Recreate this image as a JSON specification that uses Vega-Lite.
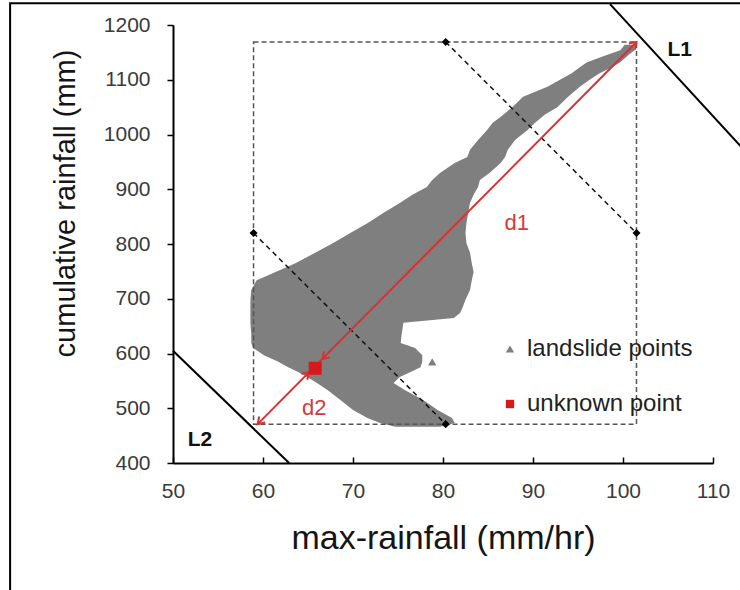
{
  "$schema": "https://vega.github.io/schema/vega-lite/v6.json",
  "width": 540,
  "height": 438,
  "autosize": {"type": "none"},
  "padding": {"left": 173, "top": 25, "right": 27, "bottom": 127},
  "background": "white",
  "config": {
    "view": {"stroke": null},
    "font": "Liberation Sans",
    "axis": {"grid": false, "labelFont": "Liberation Sans", "titleFont": "Liberation Sans", "labelFlush": false}
  },
  "datasets": {
    "blob": [
      {"y": 466, "xl": 74.7, "xr": 79.7},
      {"y": 473, "xl": 73.0, "xr": 81.3},
      {"y": 482, "xl": 71.6, "xr": 81.0},
      {"y": 497, "xl": 70.0, "xr": 79.4},
      {"y": 515, "xl": 68.6, "xr": 77.8},
      {"y": 533, "xl": 67.2, "xr": 75.8},
      {"y": 546, "xl": 66.0, "xr": 74.5},
      {"y": 557, "xl": 64.9, "xr": 75.2},
      {"y": 566, "xl": 63.9, "xr": 76.4},
      {"y": 575, "xl": 62.8, "xr": 77.5},
      {"y": 585, "xl": 61.7, "xr": 77.7},
      {"y": 597, "xl": 60.1, "xr": 77.7},
      {"y": 610, "xl": 58.9, "xr": 76.9},
      {"y": 619, "xl": 58.7, "xr": 75.3},
      {"y": 634, "xl": 58.7, "xr": 75.4},
      {"y": 656, "xl": 58.6, "xr": 75.6},
      {"y": 665, "xl": 58.6, "xr": 81.2},
      {"y": 674, "xl": 58.6, "xr": 81.9},
      {"y": 685, "xl": 58.6, "xr": 82.2},
      {"y": 698, "xl": 58.6, "xr": 82.5},
      {"y": 716, "xl": 58.7, "xr": 83.0},
      {"y": 734, "xl": 59.3, "xr": 83.2},
      {"y": 749, "xl": 61.4, "xr": 83.4},
      {"y": 765, "xl": 63.6, "xr": 83.2},
      {"y": 784, "xl": 65.8, "xr": 83.0},
      {"y": 802, "xl": 67.8, "xr": 82.6},
      {"y": 820, "xl": 69.7, "xr": 82.5},
      {"y": 838, "xl": 71.6, "xr": 82.6},
      {"y": 857, "xl": 73.4, "xr": 82.8},
      {"y": 875, "xl": 75.2, "xr": 83.0},
      {"y": 890, "xl": 76.6, "xr": 83.4},
      {"y": 904, "xl": 78.2, "xr": 83.9},
      {"y": 917, "xl": 78.8, "xr": 84.1},
      {"y": 930, "xl": 79.7, "xr": 85.2},
      {"y": 948, "xl": 81.3, "xr": 86.4},
      {"y": 959, "xl": 82.7, "xr": 86.9},
      {"y": 972, "xl": 83.0, "xr": 87.2},
      {"y": 990, "xl": 83.9, "xr": 88.0},
      {"y": 1008, "xl": 84.9, "xr": 89.4},
      {"y": 1021, "xl": 85.5, "xr": 90.2},
      {"y": 1036, "xl": 86.7, "xr": 91.3},
      {"y": 1050, "xl": 87.7, "xr": 92.7},
      {"y": 1069, "xl": 88.9, "xr": 93.9},
      {"y": 1087, "xl": 91.6, "xr": 95.2},
      {"y": 1100, "xl": 93.0, "xr": 96.3},
      {"y": 1112, "xl": 94.3, "xr": 97.4},
      {"y": 1123, "xl": 95.2, "xr": 98.8},
      {"y": 1132, "xl": 96.0, "xr": 99.7},
      {"y": 1145, "xl": 98.2, "xr": 100.6},
      {"y": 1154, "xl": 99.7, "xr": 101.3},
      {"y": 1164, "xl": 100.2, "xr": 101.3}
    ],
    "frame": [{"x1": 31.9, "x2": 120, "y1": 1239.6, "y2": 100}],
    "box": [{"x1": 58.95, "x2": 101.5, "y1": 471, "y2": 1169}],
    "diagonals": [
      {"x1": 80.3, "y1": 1169, "x2": 101.5, "y2": 820},
      {"x1": 58.95, "y1": 820, "x2": 80.3, "y2": 471}
    ],
    "corners": [
      {"x": 80.3, "y": 1169},
      {"x": 101.5, "y": 820},
      {"x": 58.95, "y": 820},
      {"x": 80.3, "y": 471}
    ],
    "borders": [
      {"name": "L1", "x1": 98.56, "y1": 1238, "x2": 114, "y2": 962},
      {"name": "L2", "x1": 50, "y1": 605, "x2": 62.9, "y2": 400}
    ],
    "dline": [{"x1": 59.4, "y1": 471, "x2": 101.5, "y2": 1169}],
    "tipsUp": [{"x": 101.5, "y": 1169}, {"x": 65.1, "y": 566}],
    "tipsDown": [{"x": 66.6, "y": 590}, {"x": 59.4, "y": 471}],
    "landslide": [{"series": "landslide points", "x": 78.8, "y": 584.5}],
    "unknown": [{"series": "unknown point", "x": 65.8, "y": 573}],
    "dlabels": [{"label": "d1", "x": 88.2, "y": 838}, {"label": "d2", "x": 65.7, "y": 500}],
    "llabels": [{"label": "L1", "x": 106.3, "y": 1155}, {"label": "L2", "x": 53.0, "y": 442}]
  },
  "layer": [
    {
      "data": {"name": "blob"},
      "mark": {"type": "area", "orient": "horizontal", "color": "#7f7f7f", "opacity": 1},
      "encoding": {
        "y": {
          "field": "y", "type": "quantitative",
          "scale": {"domain": [400, 1200], "nice": false, "zero": false},
          "axis": {
            "title": "cumulative rainfall (mm)",
            "values": [400, 500, 600, 700, 800, 900, 1000, 1100, 1200],
            "format": "d",
            "domainColor": "black", "domainWidth": 2,
            "tickColor": "black", "tickWidth": 1.5, "tickSize": 6,
            "labelFontSize": 21, "labelColor": "#3a3a3a", "labelPadding": 17,
            "titleFontSize": 29, "titleFontWeight": "normal", "titleColor": "#151515",
            "titleX": -93, "titleY": 178
          }
        },
        "x": {
          "field": "xl", "type": "quantitative",
          "scale": {"domain": [50, 110], "nice": false, "zero": false},
          "axis": {
            "title": "max-rainfall (mm/hr)",
            "values": [50, 60, 70, 80, 90, 100, 110],
            "format": "d",
            "domainColor": "black", "domainWidth": 2,
            "tickColor": "black", "tickWidth": 1.5, "tickSize": -6,
            "labelFontSize": 21, "labelColor": "#3a3a3a", "labelPadding": 23,
            "titleFontSize": 34, "titleFontWeight": "normal", "titleColor": "#151515",
            "titleY": 58
          }
        },
        "x2": {"field": "xr"}
      }
    },
    {
      "data": {"name": "frame"},
      "mark": {"type": "rect", "filled": false, "color": "black", "strokeWidth": 2},
      "encoding": {
        "x": {"field": "x1", "type": "quantitative"},
        "x2": {"field": "x2"},
        "y": {"field": "y1", "type": "quantitative"},
        "y2": {"field": "y2"}
      }
    },
    {
      "data": {"name": "box"},
      "mark": {"type": "rect", "filled": false, "color": "#555555", "strokeWidth": 1.5, "strokeDash": [5, 3]},
      "encoding": {
        "x": {"field": "x1", "type": "quantitative"},
        "x2": {"field": "x2"},
        "y": {"field": "y1", "type": "quantitative"},
        "y2": {"field": "y2"}
      }
    },
    {
      "data": {"name": "diagonals"},
      "mark": {"type": "rule", "color": "#111111", "strokeWidth": 1.5, "strokeDash": [5, 4]},
      "encoding": {
        "x": {"field": "x1", "type": "quantitative"},
        "y": {"field": "y1", "type": "quantitative"},
        "x2": {"field": "x2"},
        "y2": {"field": "y2"}
      }
    },
    {
      "data": {"name": "corners"},
      "mark": {"type": "point", "shape": "diamond", "filled": true, "color": "black", "size": 65, "opacity": 1},
      "encoding": {
        "x": {"field": "x", "type": "quantitative"},
        "y": {"field": "y", "type": "quantitative"}
      }
    },
    {
      "data": {"name": "borders"},
      "mark": {"type": "rule", "color": "black", "strokeWidth": 2},
      "encoding": {
        "x": {"field": "x1", "type": "quantitative"},
        "y": {"field": "y1", "type": "quantitative"},
        "x2": {"field": "x2"},
        "y2": {"field": "y2"}
      }
    },
    {
      "data": {"name": "dline"},
      "mark": {"type": "rule", "color": "#dc2f2f", "strokeWidth": 2},
      "encoding": {
        "x": {"field": "x1", "type": "quantitative"},
        "y": {"field": "y1", "type": "quantitative"},
        "x2": {"field": "x2"},
        "y2": {"field": "y2"}
      }
    },
    {
      "data": {"name": "tipsUp"},
      "mark": {"type": "point", "shape": "M-1,-0.65L0,0L-1,0.65", "filled": false, "color": "#dc2f2f", "strokeWidth": 2, "size": 170, "angle": 315, "opacity": 1},
      "encoding": {
        "x": {"field": "x", "type": "quantitative"},
        "y": {"field": "y", "type": "quantitative"}
      }
    },
    {
      "data": {"name": "tipsDown"},
      "mark": {"type": "point", "shape": "M-1,-0.65L0,0L-1,0.65", "filled": false, "color": "#dc2f2f", "strokeWidth": 2, "size": 170, "angle": 135, "opacity": 1},
      "encoding": {
        "x": {"field": "x", "type": "quantitative"},
        "y": {"field": "y", "type": "quantitative"}
      }
    },
    {
      "data": {"name": "landslide"},
      "mark": {"type": "point", "filled": true, "size": 70, "opacity": 1},
      "encoding": {
        "x": {"field": "x", "type": "quantitative"},
        "y": {"field": "y", "type": "quantitative"},
        "color": {
          "field": "series", "type": "nominal",
          "scale": {"domain": ["landslide points", "unknown point"], "range": ["#7f7f7f", "#d7191c"]},
          "legend": {
            "orient": "none", "legendX": 325, "legendY": 312, "title": null, "padding": 0,
            "symbolSize": 70, "labelFontSize": 24, "labelFont": "Liberation Sans", "labelColor": "#222222",
            "labelOffset": 5, "rowPadding": 31, "symbolStrokeWidth": 0, "labelLimit": 0
          }
        },
        "shape": {
          "field": "series", "type": "nominal",
          "scale": {"domain": ["landslide points", "unknown point"], "range": ["triangle-up", "square"]},
          "legend": {
            "orient": "none", "legendX": 325, "legendY": 312, "title": null, "padding": 0,
            "symbolSize": 70, "labelFontSize": 24, "labelFont": "Liberation Sans", "labelColor": "#222222",
            "labelOffset": 5, "rowPadding": 31, "symbolStrokeWidth": 0, "labelLimit": 0
          }
        }
      }
    },
    {
      "data": {"name": "unknown"},
      "mark": {"type": "point", "filled": true, "size": 169, "opacity": 1},
      "encoding": {
        "x": {"field": "x", "type": "quantitative"},
        "y": {"field": "y", "type": "quantitative"},
        "color": {"field": "series", "type": "nominal"},
        "shape": {"field": "series", "type": "nominal"}
      }
    },
    {
      "data": {"name": "dlabels"},
      "mark": {"type": "text", "color": "#d9383a", "fontSize": 22, "font": "Liberation Sans"},
      "encoding": {
        "x": {"field": "x", "type": "quantitative"},
        "y": {"field": "y", "type": "quantitative"},
        "text": {"field": "label"}
      }
    },
    {
      "data": {"name": "llabels"},
      "mark": {"type": "text", "color": "#111111", "fontSize": 21, "fontWeight": "bold", "font": "Liberation Sans"},
      "encoding": {
        "x": {"field": "x", "type": "quantitative"},
        "y": {"field": "y", "type": "quantitative"},
        "text": {"field": "label"}
      }
    }
  ]
}
